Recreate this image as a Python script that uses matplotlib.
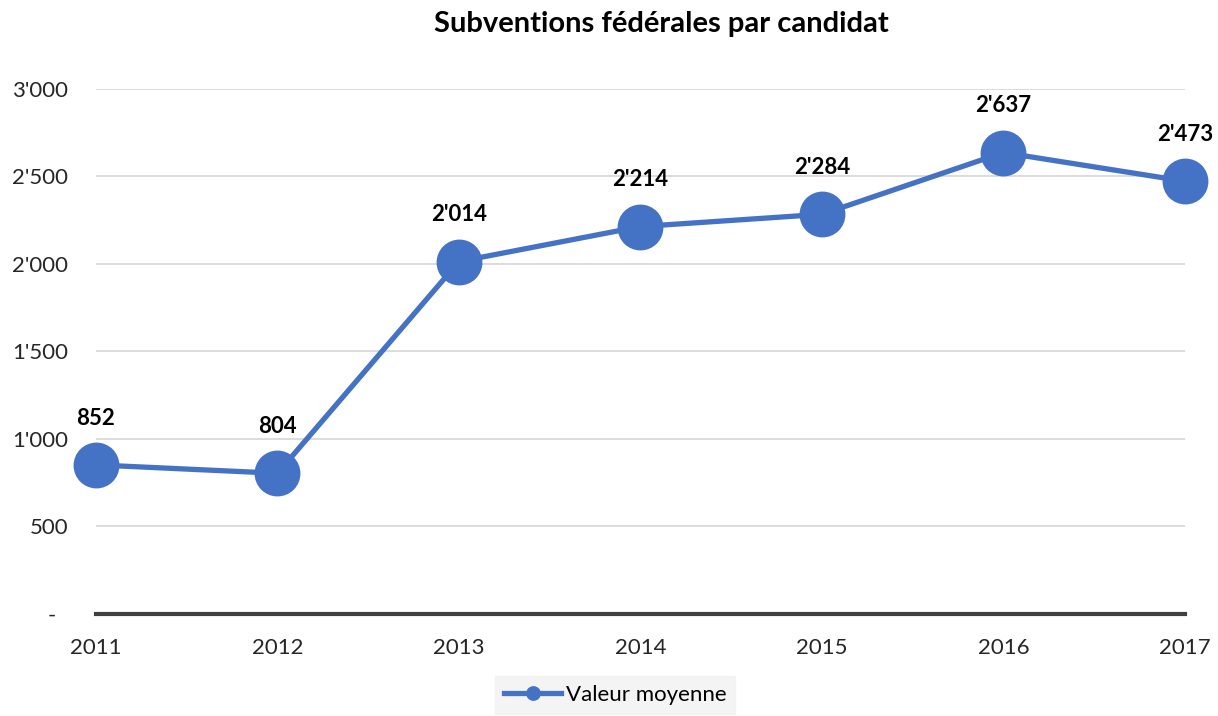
import matplotlib.pyplot as plt
from matplotlib.ticker import FuncFormatter

years = ['2011', '2012', '2013', '2014', '2015', '2016', '2017']
values = [852, 804, 2014, 2214, 2284, 2637, 2473]
series_name = 'Valeur moyenne'

blue = '#4472C4'
plt.rcParams['font.family'] = ['Lato', 'DejaVu Sans']


def fmt(v, pos=None):
    v = int(round(v))
    if v == 0:
        return '-  '
    s = f'{v:,}'.replace(',', "'")
    return s


fig = plt.figure(figsize=(12.18, 7.16), dpi=100)
ax = fig.add_axes([0.0788, 0.1425, 0.894, 0.7332])

x = list(range(len(years)))
ax.plot(x, values, color=blue, linewidth=3.8, marker='o', markersize=32,
        markerfacecolor=blue, markeredgecolor=blue, clip_on=False, zorder=3,
        label=series_name)

for xi, v in zip(x, values):
    ax.annotate(fmt(v), (xi, v), xytext=(0, 26), textcoords='offset points',
                ha='center', va='bottom', fontsize=16, fontweight='bold',
                color='black')

ax.set_xlim(0, len(years) - 1)
ax.set_ylim(0, 3000)
ax.set_xticks(x)
ax.set_xticklabels(years)
ax.set_yticks(range(0, 3001, 500))
ax.yaxis.set_major_formatter(FuncFormatter(fmt))

ax.grid(axis='y', color='#D9D9D9', linewidth=1.3)
ax.set_axisbelow(True)
for side in ['top', 'right', 'left']:
    ax.spines[side].set_visible(False)
ax.spines['bottom'].set_color('#404040')
ax.spines['bottom'].set_linewidth(3)
ax.tick_params(axis='both', length=0, labelsize=16, colors='#262626')
ax.tick_params(axis='y', pad=20)
ax.tick_params(axis='x', pad=17)

fig.suptitle('Subventions fédérales par candidat', x=0.543, y=0.985,
             fontsize=21, fontweight='bold', color='black')

leg = fig.legend(loc='center', bbox_to_anchor=(0.505, 0.029), fontsize=16,
                 frameon=True, fancybox=False, markerscale=0.3, handlelength=2.6,
                 handletextpad=0.2, borderpad=0.4)
leg.get_frame().set_facecolor('#F2F2F2')
leg.get_frame().set_edgecolor('#F2F2F2')

fig.savefig('out.png', dpi=100)
